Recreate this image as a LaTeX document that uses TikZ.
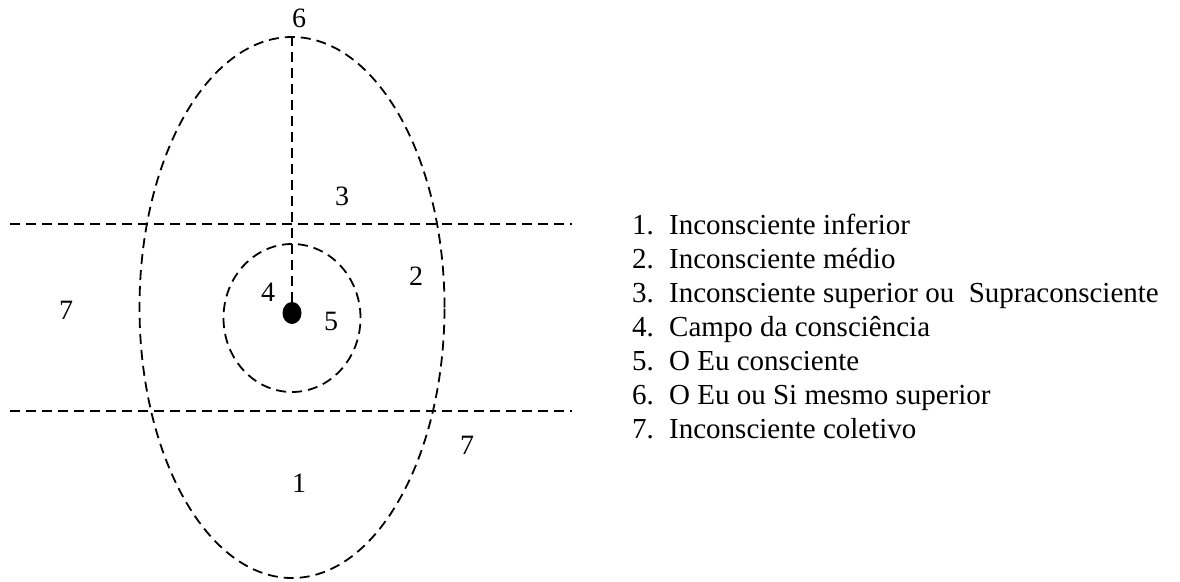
\documentclass[tikz,border=0pt]{standalone}
\usepackage{fontspec}
\setmainfont{Liberation Serif}
\usetikzlibrary{shapes.geometric,positioning}

\tikzset{
  dline/.style={dash pattern=on 10pt off 6pt, line width=1.8pt},
  region/.style={draw, ellipse, dline, inner sep=0pt},
  zone/.style={font=\fontsize{28}{32}\selectfont, anchor=base, inner sep=0pt},
  item/.style={font=\fontsize{29}{34}\selectfont, anchor=base west, inner sep=0pt}
}

\begin{document}
\begin{tikzpicture}[x=1pt, y=-1pt]
  \useasboundingbox (0,0) rectangle (1180,581);

  % Psyche, field of consciousness and the conscious self
  \node[region, minimum width=305pt, minimum height=541pt] (psyche) at (292,307.5) {};
  \node[region, minimum width=137pt, minimum height=148pt] (field) at (292,318) {};
  \node[ellipse, fill, inner sep=0pt, minimum width=19pt, minimum height=22pt] (ego) at (292,313) {};

  % Level boundaries
  \coordinate (upL) at (10,224);
  \coordinate (upR) at (572,224);
  \coordinate (loL) at (10,411);
  \coordinate (loR) at (572,411);
  \draw[dline] (upL) -- (upR);
  \draw[dline] (loL) -- (loR);
  \draw[dline] (psyche.north) -- (ego.center);

  % Region numbers
  \node[zone] (n6) at (299,27) {6};
  \node[zone] (n3) at (342,205) {3};
  \node[zone] (n2) at (416,285) {2};
  \node[zone] (n4) at (268,301) {4};
  \node[zone] (n5) at (331,330) {5};
  \node[zone] (n7a) at (66,319) {7};
  \node[zone] (n7b) at (467,454) {7};
  \node[zone] (n1) at (299,492) {1};

  % Legend
  \foreach \i/\txt [count=\k from 0] in {1/Inconsciente inferior, 2/Inconsciente médio,
      3/Inconsciente superior ou~ Supraconsciente, 4/Campo da consciência,
      5/O Eu consciente, 6/O Eu ou Si mesmo superior, 7/Inconsciente coletivo} {
    \node[item] (num\i) at (632,234+34*\k) {\i.};
    \node[item] (txt\i) at (669,234+34*\k) {\txt};
  }
\end{tikzpicture}
\end{document}
